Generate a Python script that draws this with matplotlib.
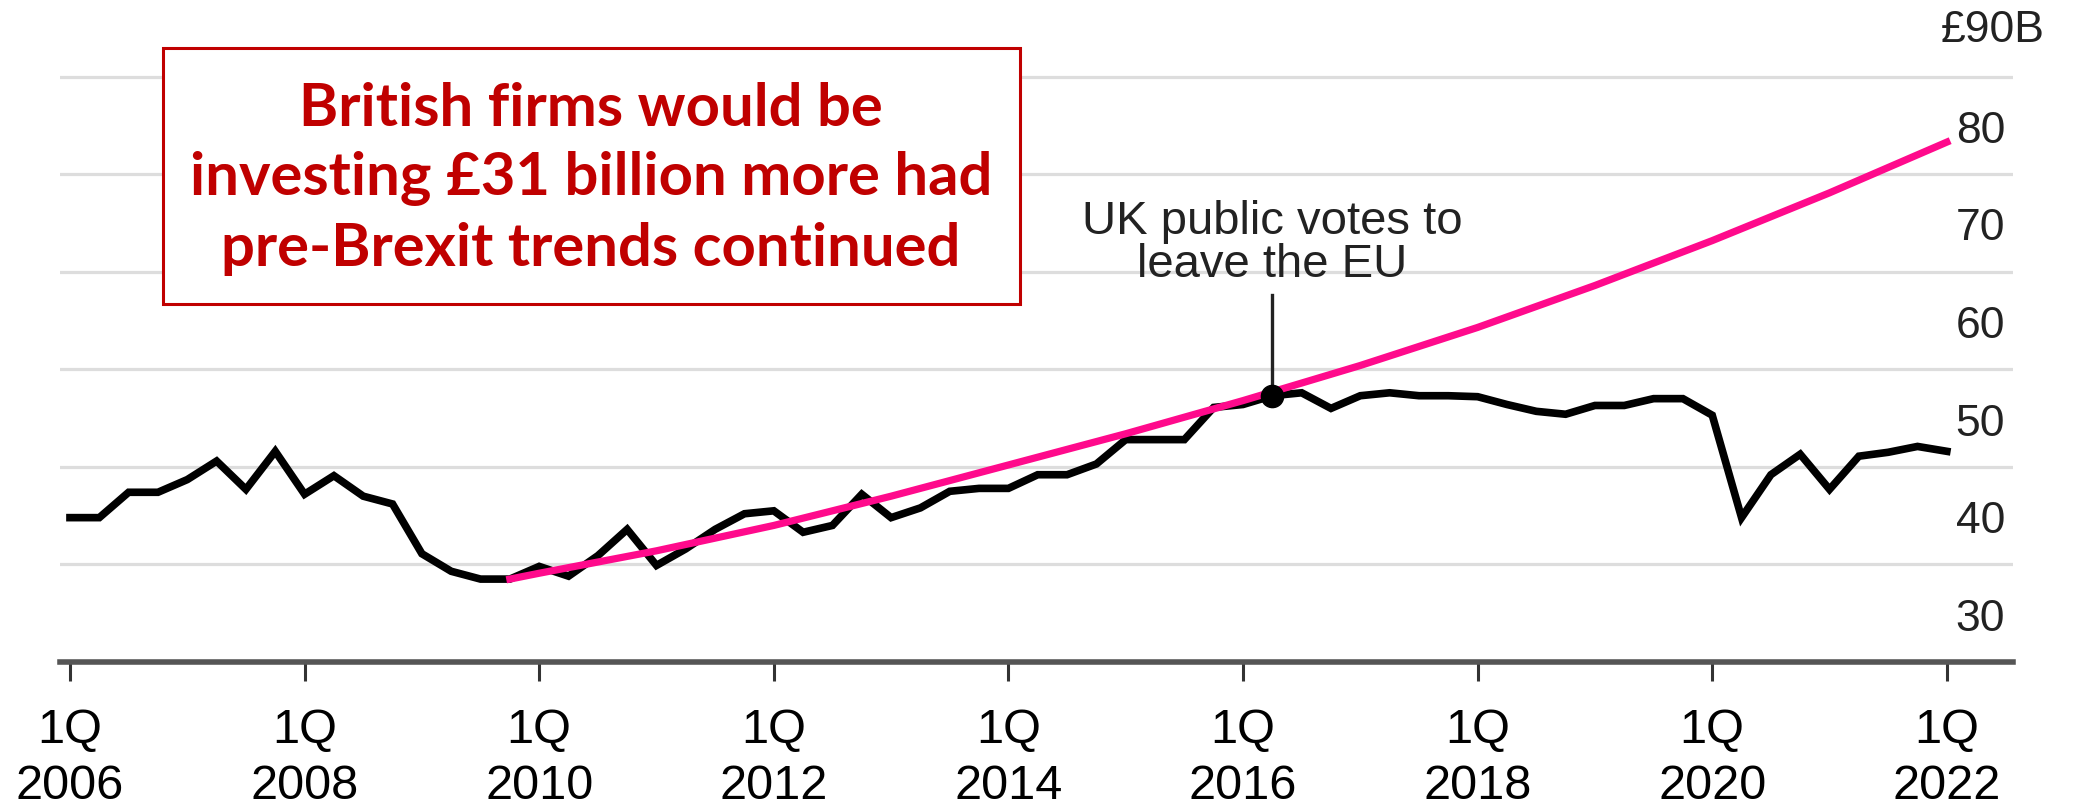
import matplotlib.pyplot as plt
from matplotlib.patches import Rectangle
from matplotlib.transforms import blended_transform_factory
import numpy as np

plt.rcParams['font.family'] = ['Liberation Sans', 'DejaVu Sans']

# UK business investment per quarter, £bn, 1Q 2006 to 1Q 2022
investment = [39.8, 39.8, 42.4, 42.4, 43.7, 45.6, 42.7, 46.6,
              42.2, 44.1, 42.0, 41.2, 36.1, 34.3, 33.5, 33.5,
              34.8, 33.8, 35.9, 38.6, 34.9, 36.6, 38.6, 40.2,
              40.5, 38.3, 39.0, 42.2, 39.8, 40.8, 42.5, 42.8,
              42.8, 44.2, 44.2, 45.3, 47.8, 47.8, 47.8, 51.1,
              51.4, 52.3, 52.6, 51.0, 52.3, 52.6, 52.3, 52.3,
              52.2, 51.4, 50.7, 50.4, 51.3, 51.3, 52.0, 52.0,
              50.3, 39.8, 44.2, 46.3, 42.7, 46.1, 46.5, 47.1,
              46.6]
first_year = 2006

# pre-Brexit trend
trend_x = [2009.75, 2010.0, 2011.0, 2012.0, 2013.0, 2014.0, 2015.0, 2016.0,
           2016.25, 2017.0, 2018.0, 2019.0, 2020.0, 2021.0, 2022.0]
trend_y = [33.5, 34.1, 36.4, 39.0, 42.0, 45.2, 48.4, 51.8,
           52.7, 55.4, 59.3, 63.6, 68.2, 73.1, 78.3]

vote_x = 2016.25
vote_y = 52.3

tick_years = [2006, 2008, 2010, 2012, 2014, 2016, 2018, 2020, 2022]
y_labels = [30, 40, 50, 60, 70, 80]
grid_vals = [35, 45, 55, 65, 75, 85]

quarters = first_year + np.arange(len(investment)) / 4

W, H = 2090, 806
fig = plt.figure(figsize=(W / 100, H / 100), dpi=100)
ax = fig.add_axes([60 / W, (H - 662) / H, 1953 / W, 662 / H])
ax.set_xlim(2005.915, 2022.564)
ax.set_ylim(25, 92.87)

for g in grid_vals:
    ax.axhline(g, color='#dddddd', lw=2.3, zorder=0)

ax.plot(quarters, investment, color='black', lw=5.5, solid_joinstyle='miter', zorder=2)
ax.plot(trend_x, trend_y, color='#ff0a8c', lw=5.2, zorder=3)

# referendum marker
ax.plot([vote_x, vote_x], [vote_y, 62.6], color='#222222', lw=2.4, zorder=4)
ax.plot(vote_x, vote_y, 'o', color='black', ms=16, zorder=5)
ax.text(vote_x, 67.9, 'UK public votes to\nleave the EU', ha='center', va='center',
        fontsize=34, color='#222222', linespacing=0.98)

for spine in ['top', 'left', 'right']:
    ax.spines[spine].set_visible(False)
ax.spines['bottom'].set_color('#555555')
ax.spines['bottom'].set_linewidth(4)
ax.set_yticks([])
ax.set_xticks(tick_years)
ax.set_xticklabels(['1Q\n%d' % y for y in tick_years], fontsize=35, linespacing=1.32)
ax.tick_params(axis='x', length=14, width=2.2, color='#333333', pad=19)

# value labels on the right
lab_tr = blended_transform_factory(fig.transFigure, ax.transData)
for v in y_labels:
    ax.text(2005 / W, v - 0.6, str(v), transform=lab_tr,
            ha='right', va='center', fontsize=32, color='#222222')
ax.text(1941 / W, 90 - 0.3, '£90B', transform=lab_tr,
        ha='left', va='center', fontsize=32, color='#222222')

# callout box
fig.patches.append(Rectangle((163 / W, (H - 304) / H), 857 / W, 256 / H,
                             transform=fig.transFigure, facecolor='white',
                             edgecolor='#c00000', lw=2.2, zorder=6))
fig.text(591 / W, (H - 179) / H,
         'British firms would be\ninvesting £31 billion more had\npre-Brexit trends continued',
         ha='center', va='center', fontsize=43, fontweight='bold', color='#c00000',
         family=['Lato', 'DejaVu Sans'], linespacing=1.35, zorder=7)

fig.savefig('out.png', dpi=100)
